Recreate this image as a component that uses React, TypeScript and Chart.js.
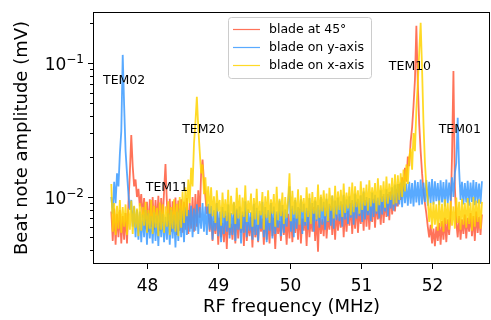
import React, { useEffect, useRef } from 'react';
import { Chart, registerables } from 'chart.js';

Chart.register(...registerables);

// Sampling grid of the RF sweep (MHz) and amplitude unit (values below are in 1e-4 mV)
const FREQ_START = 47.5;
const FREQ_STEP = 0.02;
const AMP_UNIT = 1e-4;

// blade at 45°
const blade45 = [
  78, 47, 82, 44, 75, 50, 80, 45, 72, 48,
  76, 45, 90, 150, 290, 170, 120, 135, 100, 115,
  85, 105, 70, 98, 58, 92, 55, 96, 60, 100,
  57, 95, 62, 102, 56, 98, 64, 110, 176, 90,
  60, 97, 55, 93, 58, 99, 52, 94, 56, 96,
  54, 92, 57, 98, 53, 90, 58, 100, 55, 105,
  60, 112, 70, 150, 190, 130, 100, 75, 85, 55,
  75, 47, 66, 53, 79, 44, 70, 50, 64, 46,
  72, 41, 77, 52, 63, 48, 74, 45, 80, 49,
  68, 54, 73, 43, 78, 47, 65, 51, 71, 42,
  76, 50, 62, 46, 73, 55, 69, 44, 75, 48,
  67, 45, 79, 51, 70, 41, 74, 53, 66, 47,
  78, 52, 68, 44, 75, 49, 81, 46, 70, 54,
  73, 48, 82, 45, 69, 56, 76, 43, 79, 50,
  71, 55, 84, 47, 74, 39, 80, 53, 68, 51,
  83, 49, 72, 57, 86, 52, 77, 48, 81, 56,
  75, 59, 88, 50, 82, 55, 79, 61, 90, 53,
  84, 58, 92, 54, 80, 63, 89, 56, 95, 60,
  91, 57, 86, 65, 97, 59, 93, 68, 88, 62,
  101, 64, 96, 71, 105, 67, 110, 74, 103, 78,
  115, 85, 125, 95, 140, 110, 165, 130, 200, 170,
  260, 330, 480, 750, 1900, 700, 350, 220, 150, 110,
  90, 75, 60, 50, 62, 45, 58, 43, 60, 47,
  64, 44, 66, 48, 70, 46, 68, 52, 75, 200,
  870, 120, 65, 50, 72, 48, 68, 53, 74, 49,
  70, 55, 76, 51, 72, 47, 78, 54, 71, 52,
  74,
];

// blade on y-axis
const bladeY = [
  100, 75, 130, 90, 150, 120, 210, 310, 1150, 480,
  220, 150, 105, 80, 95, 60, 85, 50, 80, 48,
  78, 46, 74, 50, 80, 44, 76, 49, 72, 45,
  77, 47, 73, 43, 79, 50, 75, 46, 71, 48,
  76, 44, 80, 49, 74, 42, 78, 47, 82, 50,
  79, 46, 84, 52, 80, 55, 86, 50, 82, 56,
  88, 53, 84, 58, 90, 55, 85, 52, 89, 57,
  86, 48, 80, 56, 90, 51, 78, 46, 84, 53,
  79, 55, 88, 49, 76, 52, 91, 47, 82, 57,
  85, 45, 78, 54, 93, 50, 81, 56, 77, 48,
  89, 52, 83, 47, 79, 58, 92, 50, 84, 46,
  80, 56, 90, 49, 85, 53, 78, 59, 94, 51,
  87, 54, 81, 60, 91, 120, 55, 86, 50, 95,
  58, 84, 62, 96, 53, 89, 61, 83, 57, 98,
  63, 90, 55, 94, 66, 87, 59, 100, 62, 92,
  57, 97, 65, 89, 61, 102, 58, 94, 67, 99,
  66, 93, 60, 104, 68, 96, 63, 101, 70, 95,
  62, 106, 69, 97, 72, 103, 65, 110, 68, 100,
  73, 98, 66, 108, 71, 104, 75, 99, 69, 112,
  74, 105, 78, 114, 72, 109, 82, 118, 79, 124,
  85, 125, 88, 128, 84, 132, 90, 126, 86, 130,
  89, 127, 85, 133, 91, 129, 87, 135, 88, 128,
  92, 134, 86, 130, 90, 136, 88, 131, 93, 127,
  87, 133, 91, 129, 85, 135, 90, 128, 94, 140,
  100, 150, 180, 390, 160, 95, 130, 88, 127, 91,
  132, 86, 128, 92, 134, 87, 129, 90, 126, 89,
  131,
];

// blade on x-axis
const bladeX = [
  125, 55, 90, 52, 86, 58, 95, 54, 84, 60,
  88, 52, 82, 57, 94, 53, 86, 59, 82, 51,
  90, 56, 84, 61, 92, 54, 80, 58, 95, 53,
  86, 59, 83, 51, 91, 57, 88, 54, 85, 60,
  93, 52, 84, 58, 96, 55, 89, 51, 100, 59,
  110, 64, 118, 72, 135, 90, 165, 120, 250, 360,
  560, 330, 220, 150, 175, 105, 140, 85, 120, 75,
  118, 72, 101, 64, 112, 78, 95, 61, 108, 70,
  96, 66, 113, 59, 102, 74, 92, 63, 117, 69,
  104, 58, 99, 71, 122, 65, 94, 76, 106, 60,
  98, 68, 115, 62, 93, 73, 109, 57, 101, 70,
  112, 64, 96, 75, 105, 60, 119, 67, 97, 72,
  108, 63, 100, 70, 95, 150, 66, 111, 74, 99,
  69, 114, 62, 103, 77, 98, 65, 118, 71, 106,
  63, 109, 75, 100, 68, 124, 70, 104, 78, 112,
  72, 106, 66, 117, 79, 103, 69, 121, 74, 110,
  80, 113, 71, 126, 76, 108, 82, 119, 73, 128,
  77, 120, 84, 112, 75, 131, 80, 117, 86, 124,
  79, 133, 85, 118, 90, 127, 78, 138, 87, 122,
  92, 131, 83, 142, 89, 126, 95, 139, 88, 148,
  90, 145, 95, 150, 100, 160, 110, 175, 125, 200,
  230, 160, 300, 220, 450, 700, 1200, 2000, 900, 350,
  180, 120, 95, 65, 90, 58, 92, 62, 88, 56,
  94, 60, 89, 55, 96, 63, 90, 57, 93, 61,
  85, 58, 99, 64, 92, 57, 97, 62, 90, 59,
  98, 63, 91, 56, 100, 60, 94, 65, 96, 58,
  92,
];

const seriesNames = ['blade at 45°', 'blade on y-axis', 'blade on x-axis'];
const seriesColors = ['rgba(255,90,60,0.85)', 'rgba(60,155,255,0.85)', 'rgba(255,212,0,0.85)'];

const xTickValues = [48, 49, 50, 51, 52];
const yMajorTicks = [0.01, 0.1];
const yMajorExponents = ['−2', '−1'];
const yMinorTicks = [
  0.004, 0.005, 0.006, 0.007, 0.008, 0.009,
  0.02, 0.03, 0.04, 0.05, 0.06, 0.07, 0.08, 0.09,
  0.2,
];

const modeNames = ['TEM02', 'TEM20', 'TEM11', 'TEM10', 'TEM01'];
const modeFreq = [47.68, 48.79, 48.28, 51.69, 52.39];
const modeAmp = [0.0747, 0.0322, 0.0119, 0.0966, 0.0322];

const X_MIN = 47.243;
const X_MAX = 52.813;
const Y_MIN = 0.00316;
const Y_MAX = 0.2404;

const FONT = '"DejaVu Sans", sans-serif';

function toPoints(values: number[]) {
  return values.map((v, i) => ({ x: FREQ_START + i * FREQ_STEP, y: v * AMP_UNIT }));
}

const decorPlugin = {
  id: 'decor',
  afterDraw(chart: any) {
    const { ctx, chartArea: a, scales } = chart;
    const xs = scales.x;
    const ys = scales.y;
    ctx.save();

    // mode annotations
    ctx.fillStyle = '#000';
    ctx.font = `12.5px ${FONT}`;
    ctx.textAlign = 'center';
    ctx.textBaseline = 'alphabetic';
    modeNames.forEach((n, i) => {
      const px = xs.getPixelForValue(modeFreq[i]);
      const py = ys.getPixelForValue(modeAmp[i]);
      ctx.fillText(n, px, py + 4.5);
    });

    // frame
    ctx.strokeStyle = '#000';
    ctx.lineWidth = 1;
    ctx.strokeRect(a.left + 0.5, a.top + 0.5, a.right - a.left - 1, a.bottom - a.top - 1);

    // x ticks
    ctx.font = `17px ${FONT}`;
    ctx.textAlign = 'center';
    xTickValues.forEach((v) => {
      const px = Math.round(xs.getPixelForValue(v)) + 0.5;
      ctx.beginPath();
      ctx.moveTo(px, a.bottom);
      ctx.lineTo(px, a.bottom + 5);
      ctx.stroke();
      ctx.fillText(String(v), px, a.bottom + 27);
    });

    // y ticks
    yMinorTicks.forEach((v) => {
      const py = Math.round(ys.getPixelForValue(v)) + 0.5;
      ctx.beginPath();
      ctx.moveTo(a.left - 3, py);
      ctx.lineTo(a.left, py);
      ctx.stroke();
    });
    yMajorTicks.forEach((v, i) => {
      const py = Math.round(ys.getPixelForValue(v)) + 0.5;
      ctx.beginPath();
      ctx.moveTo(a.left - 5, py);
      ctx.lineTo(a.left, py);
      ctx.stroke();
      ctx.textAlign = 'left';
      ctx.font = `12px ${FONT}`;
      const supW = ctx.measureText(yMajorExponents[i]).width;
      ctx.font = `17px ${FONT}`;
      const baseW = ctx.measureText('10').width;
      const right = a.left - 9;
      const start = right - supW - baseW;
      ctx.fillText('10', start, py + 6);
      ctx.font = `12px ${FONT}`;
      ctx.fillText(yMajorExponents[i], start + baseW, py - 0.5);
    });

    // axis titles
    ctx.font = `18px ${FONT}`;
    ctx.textAlign = 'center';
    ctx.fillText('RF frequency (MHz)', (a.left + a.right) / 2, 311.5);
    ctx.save();
    ctx.translate(26.5, (a.top + a.bottom) / 2);
    ctx.rotate(-Math.PI / 2);
    ctx.fillText('Beat note amplitude (mV)', 0, 0);
    ctx.restore();

    // legend
    const lx = 228.5, ly = 17.5, lw = 143, lh = 61;
    ctx.beginPath();
    ctx.roundRect(lx, ly, lw, lh, 3);
    ctx.fillStyle = 'rgba(255,255,255,0.8)';
    ctx.fill();
    ctx.strokeStyle = '#cccccc';
    ctx.lineWidth = 1;
    ctx.stroke();
    const rows = [29, 47, 65];
    ctx.font = `12.5px ${FONT}`;
    ctx.textAlign = 'left';
    ctx.textBaseline = 'middle';
    seriesNames.forEach((n, i) => {
      ctx.strokeStyle = seriesColors[i];
      ctx.lineWidth = 1.2;
      ctx.beginPath();
      ctx.moveTo(233, rows[i] + 0.5);
      ctx.lineTo(260, rows[i] + 0.5);
      ctx.stroke();
      ctx.fillStyle = '#000';
      ctx.fillText(n, 269, rows[i] + 1);
    });

    ctx.restore();
  },
};

export default function App() {
  const ref = useRef<HTMLCanvasElement | null>(null);

  useEffect(() => {
    document.body.style.margin = '0';
    if (!ref.current) return;
    const series = [blade45, bladeY, bladeX];
    const chart = new Chart(ref.current, {
      type: 'line',
      data: {
        datasets: series.map((s, i) => ({
          label: seriesNames[i],
          data: toPoints(s),
          borderColor: seriesColors[i],
          backgroundColor: seriesColors[i],
          borderWidth: 1.8,
          borderJoinStyle: 'bevel',
          pointRadius: 0,
          tension: 0,
          fill: false,
          order: 3 - i,
        })),
      },
      options: {
        responsive: false,
        animation: false,
        events: [],
        layout: { padding: { top: 12, right: 1, left: 0, bottom: 0 } },
        plugins: { legend: { display: false }, tooltip: { enabled: false } },
        scales: {
          x: {
            type: 'linear',
            min: X_MIN,
            max: X_MAX,
            ticks: { display: false },
            grid: { display: false },
            border: { display: false },
            afterFit: (s: any) => { s.height = 56; },
          },
          y: {
            type: 'logarithmic',
            min: Y_MIN,
            max: Y_MAX,
            ticks: { display: false },
            grid: { display: false },
            border: { display: false },
            afterFit: (s: any) => { s.width = 93; },
          },
        },
      },
      plugins: [decorPlugin],
    } as any);
    return () => chart.destroy();
  }, []);

  return <canvas ref={ref} width={491} height={320} style={{ display: 'block' }} />;
}
